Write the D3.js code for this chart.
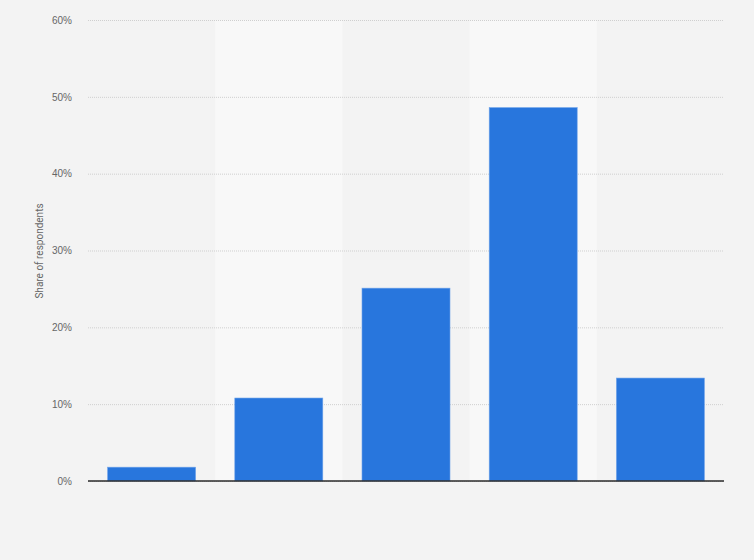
<!DOCTYPE html>
<html>
<head>
<meta charset="utf-8">
<script src="https://cdn.jsdelivr.net/npm/d3@7"></script>
<style>
  body { margin: 0; background: #f3f3f3; }
  svg { display: block; font-family: Roboto, "Open Sans", Arial, sans-serif; }
</style>
</head>
<body>
<svg id="chart" width="754" height="560"></svg>
<script>
// categories have no visible labels in the reference
const categories = ['A', 'B', 'C', 'D', 'E']
const shares = [1.8, 10.8, 25.1, 48.6, 13.4]
const yTicks = [0, 10, 20, 30, 40, 50, 60]

const svg = d3.select('#chart')
const margin = { top: 20, right: 30, bottom: 79, left: 88 }
const width = 754 - margin.left - margin.right
const height = 560 - margin.top - margin.bottom

svg.append('rect')
  .attr('width', 754).attr('height', 560)
  .attr('fill', '#f3f3f3')

const g = svg.append('g')
  .attr('transform', `translate(${margin.left},${margin.top})`)

const x = d3.scaleBand()
  .domain(categories)
  .range([0, width])
  .paddingInner(0)

const y = d3.scaleLinear()
  .domain([0, 60])
  .range([height, 0])

// lighter bands behind every other category
g.selectAll('.band')
  .data(categories.filter((d, i) => i % 2 === 1))
  .enter()
  .append('rect')
  .attr('x', d => x(d))
  .attr('y', 0)
  .attr('width', x.bandwidth())
  .attr('height', height)
  .attr('fill', '#f8f8f8')

// gridlines + tick labels
const yAxis = d3.axisLeft(y)
  .tickValues(yTicks)
  .tickSize(-width)
  .tickFormat(d => d + '%')

g.append('g')
  .call(yAxis)
  .call(ax => ax.select('.domain').remove())
  .call(ax => ax.selectAll('.tick line')
    .attr('stroke', '#cfcfcf')
    .attr('stroke-dasharray', '1,1'))
  .call(ax => ax.selectAll('.tick text')
    .attr('x', -16)
    .attr('fill', '#666')
    .attr('font-size', 10))

// bars
const barW = 88
g.selectAll('.bar')
  .data(shares)
  .enter()
  .append('rect')
  .attr('x', (d, i) => x(categories[i]) + (x.bandwidth() - barW) / 2)
  .attr('y', d => y(d))
  .attr('width', barW)
  .attr('height', d => height - y(d))
  .attr('fill', '#2876dd')
  .attr('stroke', '#6fa3ea')
  .attr('stroke-width', 0.6)

// baseline
g.append('line')
  .attr('x1', 0).attr('x2', width)
  .attr('y1', height).attr('y2', height)
  .attr('stroke', '#2b2b2b')
  .attr('stroke-width', 1.3)

// y axis title
svg.append('text')
  .attr('transform', `translate(43,251) rotate(-90)`)
  .attr('text-anchor', 'middle')
  .attr('font-size', 10)
  .attr('fill', '#666')
  .text('Share of respondents')
</script>
</body>
</html>
